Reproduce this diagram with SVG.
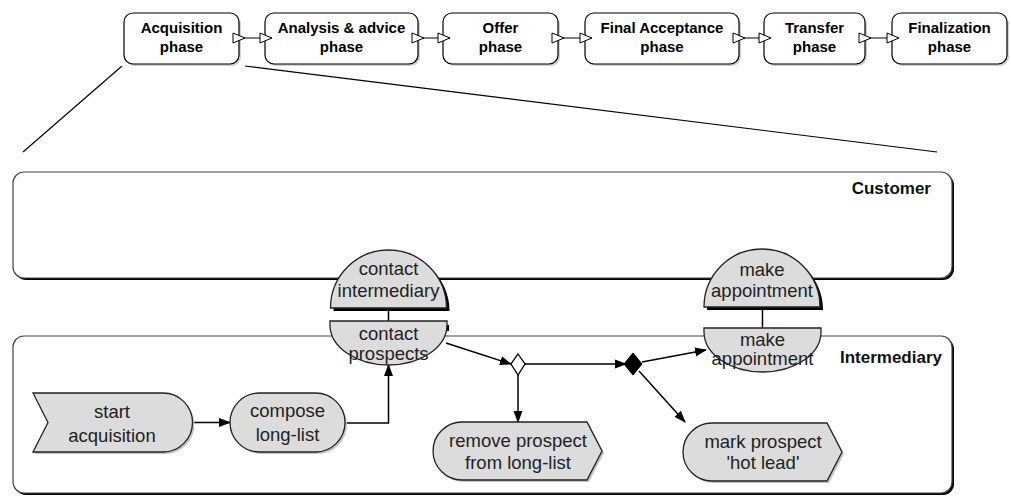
<svg xmlns="http://www.w3.org/2000/svg" width="1011" height="496" viewBox="0 0 1011 496">
  <defs>
    <marker id="openTri" viewBox="0 0 14 12" refX="13" refY="6" markerWidth="14" markerHeight="12" markerUnits="userSpaceOnUse" orient="auto">
      <path d="M1,1 L13,6 L1,11 Z" fill="#fff" stroke="#000" stroke-width="1"/>
    </marker>
    <marker id="openTriStart" viewBox="0 0 14 12" refX="7" refY="6" markerWidth="14" markerHeight="12" markerUnits="userSpaceOnUse" orient="auto">
      <path d="M1,1 L13,6 L1,11 Z" fill="#fff" stroke="#000" stroke-width="1"/>
    </marker>
    <marker id="arrow" viewBox="0 0 12 10" refX="11" refY="5" markerWidth="12" markerHeight="10" markerUnits="userSpaceOnUse" orient="auto">
      <path d="M0,0.5 L12,5 L0,9.5 Z" fill="#000"/>
    </marker>
  </defs>
  <style>
    .phase { fill: #fff; stroke: #000; stroke-width: 1.2; }
    .phase-shadow { fill: #d0d0d0; }
    .ptxt { font-family: "Liberation Sans", Arial, sans-serif; font-weight: bold; font-size: 15px; text-anchor: middle; fill: #000; }
    .lane { fill: #fff; stroke: #444; stroke-width: 1.2; }
    .lane-shadow { fill: #000; }
    .ltxt { font-family: "Liberation Sans", Arial, sans-serif; font-weight: bold; font-size: 17px; text-anchor: end; fill: #111; }
    .act { fill: #dcdcdc; stroke: #222; stroke-width: 1.3; }
    .soft { fill: #c4c4c4; }
    .hard { fill: #000; }
    .ntxt { font-family: "Liberation Sans", Arial, sans-serif; font-size: 18.5px; text-anchor: middle; fill: #222; }
    .edge { fill: none; stroke: #000; stroke-width: 1.5; }
    .phase-edge { fill: none; stroke: #000; stroke-width: 1; }
    .zoom { stroke: #000; stroke-width: 1.2; }
  </style>

  <!-- value chain of phases -->
  <g id="phase-acquisition">
    <rect class="phase-shadow" x="126" y="15" width="115" height="51" rx="9"/>
    <rect class="phase" x="124" y="13" width="115" height="51" rx="9"/>
    <text class="ptxt" x="181.5" y="33">Acquisition</text>
    <text class="ptxt" x="181.5" y="52">phase</text>
  </g>
  <g id="phase-analysis">
    <rect class="phase-shadow" x="267" y="15" width="153" height="51" rx="9"/>
    <rect class="phase" x="265" y="13" width="153" height="51" rx="9"/>
    <text class="ptxt" x="341.5" y="33">Analysis &amp; advice</text>
    <text class="ptxt" x="341.5" y="52">phase</text>
  </g>
  <g id="phase-offer">
    <rect class="phase-shadow" x="445" y="15" width="115" height="51" rx="9"/>
    <rect class="phase" x="443" y="13" width="115" height="51" rx="9"/>
    <text class="ptxt" x="500.5" y="33">Offer</text>
    <text class="ptxt" x="500.5" y="52">phase</text>
  </g>
  <g id="phase-final-acceptance">
    <rect class="phase-shadow" x="587" y="15" width="154" height="51" rx="9"/>
    <rect class="phase" x="585" y="13" width="154" height="51" rx="9"/>
    <text class="ptxt" x="662" y="33">Final Acceptance</text>
    <text class="ptxt" x="662" y="52">phase</text>
  </g>
  <g id="phase-transfer">
    <rect class="phase-shadow" x="766" y="15" width="101" height="51" rx="9"/>
    <rect class="phase" x="764" y="13" width="101" height="51" rx="9"/>
    <text class="ptxt" x="814.5" y="33">Transfer</text>
    <text class="ptxt" x="814.5" y="52">phase</text>
  </g>
  <g id="phase-finalization">
    <rect class="phase-shadow" x="894" y="15" width="115" height="51" rx="9"/>
    <rect class="phase" x="892" y="13" width="115" height="51" rx="9"/>
    <text class="ptxt" x="949.5" y="33">Finalization</text>
    <text class="ptxt" x="949.5" y="52">phase</text>
  </g>

  <!-- detail lines from the acquisition phase to the lanes -->
  <g id="zoom-lines">
    <line class="zoom" x1="122" y1="66" x2="23" y2="152"/>
    <line class="zoom" x1="245" y1="66" x2="937" y2="152"/>
  </g>

  <!-- swimlanes -->
  <g id="lane-customer">
    <rect class="lane-shadow" x="15" y="174" width="939" height="106" rx="11"/>
    <rect class="lane" x="13" y="172" width="939" height="106" rx="11"/>
    <text class="ltxt" x="931" y="194">Customer</text>
  </g>
  <g id="lane-intermediary">
    <rect class="lane-shadow" x="15" y="338" width="939" height="157" rx="11"/>
    <rect class="lane" x="13" y="336" width="939" height="157" rx="11"/>
    <text class="ltxt" x="942" y="363">Intermediary</text>
  </g>

  <!-- connectors -->
  <g id="connectors">
    <line class="phase-edge" x1="239" y1="38" x2="272" y2="38" marker-start="url(#openTriStart)" marker-end="url(#openTri)"/>
    <line class="phase-edge" x1="418" y1="38" x2="450" y2="38" marker-start="url(#openTriStart)" marker-end="url(#openTri)"/>
    <line class="phase-edge" x1="558" y1="38" x2="592" y2="38" marker-start="url(#openTriStart)" marker-end="url(#openTri)"/>
    <line class="phase-edge" x1="739" y1="38" x2="771" y2="38" marker-start="url(#openTriStart)" marker-end="url(#openTri)"/>
    <line class="phase-edge" x1="865" y1="38" x2="899" y2="38" marker-start="url(#openTriStart)" marker-end="url(#openTri)"/>

    <line class="edge" x1="388.5" y1="308" x2="388.5" y2="321" stroke-width="1.2"/>
    <line class="edge" x1="762.5" y1="307" x2="762.5" y2="328" stroke-width="1.2"/>

    <path class="edge" d="M193,422.5 H230" marker-end="url(#arrow)"/>
    <path class="edge" d="M345,423 H388.5 V365" marker-end="url(#arrow)"/>
    <path class="edge" d="M446,343 L511,364" marker-end="url(#arrow)"/>
    <path class="edge" d="M518,374 V422" marker-end="url(#arrow)"/>
    <path class="edge" d="M525,364 H626" marker-end="url(#arrow)"/>
    <path class="edge" d="M642,362 L706,350" marker-end="url(#arrow)"/>
    <path class="edge" d="M639,371 L685,422" marker-end="url(#arrow)"/>
  </g>

  <!-- interaction: contact -->
  <g id="contact-intermediary">
    <path class="hard" d="M333.5,311 A58,58 0 0 1 449.5,311 Z"/>
    <path class="act" d="M330.5,308 A58,58 0 0 1 446.5,308 Z"/>
    <text class="ntxt" x="388.5" y="275">contact</text>
    <text class="ntxt" x="388.5" y="297">intermediary</text>
  </g>
  <g id="contact-prospects">
    <path class="hard" d="M443,325 H449 V331 H443 Z"/>
    <path class="act" d="M330,321 H447 V325 A58.5,40 0 0 1 330,325 Z"/>
    <text class="ntxt" x="388.5" y="340">contact</text>
    <text class="ntxt" x="388.5" y="360">prospects</text>
  </g>

  <!-- interaction: appointment -->
  <g id="make-appointment-customer">
    <path class="hard" d="M707,310 A58,58 0 0 1 823,310 Z"/>
    <path class="act" d="M704,307 A58,58 0 0 1 820,307 Z"/>
    <text class="ntxt" x="762" y="276">make</text>
    <text class="ntxt" x="762" y="297">appointment</text>
  </g>
  <g id="make-appointment-intermediary">
    <path class="act" d="M704,328 H821 V332 A58.5,40 0 0 1 704,332 Z"/>
    <text class="ntxt" x="762.5" y="346">make</text>
    <text class="ntxt" x="762.5" y="365">appointment</text>
  </g>

  <!-- intermediary activities -->
  <g id="start-acquisition">
    <path class="soft" d="M35,395 H165 A29.5,29.5 0 0 1 165,454 H35 L50,424.5 Z"/>
    <path class="act" d="M33,393 H163 A29.5,29.5 0 0 1 163,452 H33 L48,422.5 Z"/>
    <text class="ntxt" x="112" y="418">start</text>
    <text class="ntxt" x="112" y="442">acquisition</text>
  </g>
  <g id="compose-long-list">
    <rect class="soft" x="232" y="395" width="115" height="59" rx="29.5"/>
    <rect class="act" x="230" y="393" width="115" height="59" rx="29.5"/>
    <text class="ntxt" x="287.5" y="417">compose</text>
    <text class="ntxt" x="287.5" y="441">long-list</text>
  </g>
  <g id="decision-open">
    <path d="M518,354 L525,364 L518,375 L511,364 Z" fill="#fff" stroke="#000" stroke-width="1.3"/>
  </g>
  <g id="decision-filled">
    <path d="M633,353 L642,364 L633,375 L624,364 Z" fill="#000" stroke="#000" stroke-width="1"/>
  </g>
  <g id="remove-prospect">
    <path class="soft" d="M464,424 H589 L604,453 L589,482 H464 A29,29 0 0 1 464,424 Z"/>
    <path class="act" d="M462,422 H587 L602,451 L587,480 H462 A29,29 0 0 1 462,422 Z"/>
    <text class="ntxt" x="518" y="447">remove prospect</text>
    <text class="ntxt" x="518" y="469">from long-list</text>
  </g>
  <g id="mark-prospect">
    <path class="soft" d="M714,425 H829 L844,454 L829,483 H714 A29,29 0 0 1 714,425 Z"/>
    <path class="act" d="M712,423 H827 L842,452 L827,481 H712 A29,29 0 0 1 712,423 Z"/>
    <text class="ntxt" x="763" y="448">mark prospect</text>
    <text class="ntxt" x="763" y="469">'hot lead'</text>
  </g>
</svg>
